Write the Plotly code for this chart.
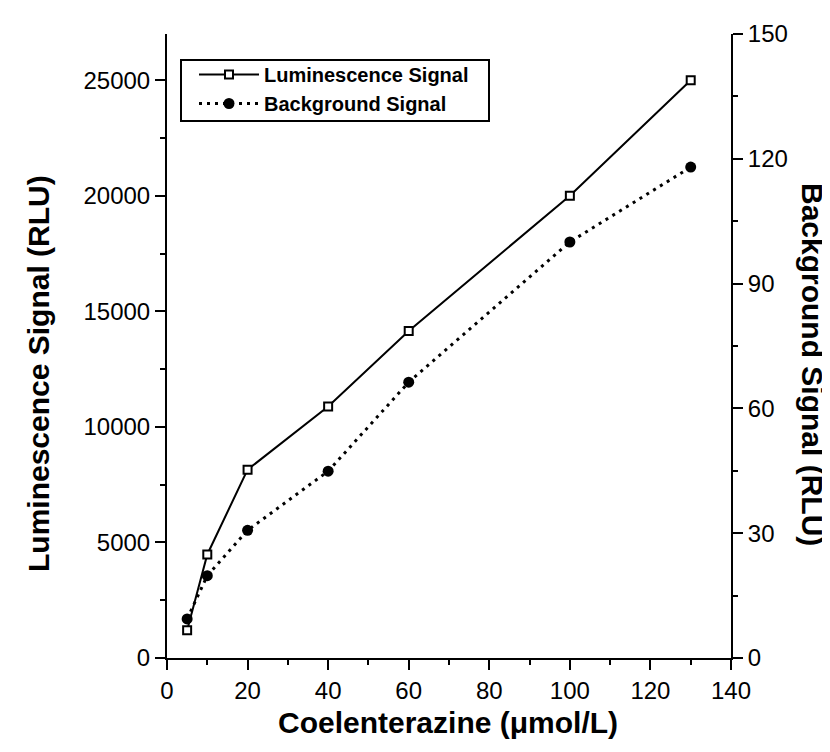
import plotly.graph_objects as go

# Data
conc = [5, 10, 20, 40, 60, 100, 130]
lum_signal = [1200, 4480, 8150, 10880, 14150, 20000, 25000]
bg_signal = [9.4, 19.8, 30.7, 44.9, 66.3, 100, 118]

x_ticks = [0, 20, 40, 60, 80, 100, 120, 140]
left_ticks = [0, 5000, 10000, 15000, 20000, 25000]
right_ticks = [0, 30, 60, 90, 120, 150]

W, H = 830, 752
L, R, T, B = 159, 107, 26, 102
PW, PH = W - L - R, H - T - B


def px(xp):
    return (xp - L) / PW


def py(yp):
    return 1 - (yp - T) / PH


FONT = "Arial, Liberation Sans, Helvetica, sans-serif"

fig = go.Figure()
fig.add_trace(go.Scatter(
    x=conc, y=lum_signal, name="Luminescence Signal", mode="lines+markers",
    line=dict(color="black", width=2),
    marker=dict(symbol="square", size=8, color="white", line=dict(color="black", width=2)),
    yaxis="y"))
fig.add_trace(go.Scatter(
    x=conc, y=bg_signal, name="Background Signal", mode="lines+markers",
    line=dict(color="black", width=3, dash="3px,5px"),
    marker=dict(symbol="circle", size=11, color="black"),
    yaxis="y2"))

axis_common = dict(
    showgrid=False, zeroline=False, showline=True, linecolor="black", linewidth=2,
    ticks="outside", ticklen=10, tickwidth=2, tickcolor="black",
    tickfont=dict(family=FONT, size=24, color="black"),
)

fig.update_layout(
    width=W, height=H,
    margin=dict(l=L, r=R, t=T, b=B, pad=0),
    paper_bgcolor="white", plot_bgcolor="white",
    showlegend=True,
    legend=dict(
        x=px(186), y=py(47), xanchor="left", yanchor="top",
        bgcolor="rgba(0,0,0,0)", borderwidth=0,
        font=dict(family=FONT, size=20, color="black", weight="bold"),
        itemwidth=60, tracegroupgap=0,
    ),
    xaxis=dict(
        range=[0, 140], tickvals=x_ticks, ticktext=[str(v) for v in x_ticks],
        minor=dict(dtick=10, ticklen=5, tickwidth=2, tickcolor="black", ticks="outside"),
        **axis_common),
    yaxis=dict(
        range=[0, 27000], tickvals=left_ticks, ticktext=[str(v) for v in left_ticks],
        minor=dict(dtick=2500, ticklen=5, tickwidth=2, tickcolor="black", ticks="outside"),
        **axis_common),
    yaxis2=dict(
        range=[0, 150], tickvals=right_ticks, ticktext=[str(v) for v in right_ticks],
        overlaying="y", side="right",
        minor=dict(dtick=15, ticklen=5, tickwidth=2, tickcolor="black", ticks="outside"),
        **axis_common),
)

# legend frame
fig.add_shape(type="rect", xref="paper", yref="paper",
              x0=px(173), x1=px(481), y0=py(113), y1=py(52),
              line=dict(color="black", width=2), fillcolor="white", layer="below")

title_font = dict(family=FONT, size=30, color="black", weight="bold")
fig.add_annotation(text="Coelenterazine (μmol/L)", xref="paper", yref="paper",
                   x=px(440), y=py(714), showarrow=False,
                   xanchor="center", yanchor="middle", font=title_font)
fig.add_annotation(text="Luminescence Signal (RLU)", xref="paper", yref="paper",
                   x=px(31), y=py(366), showarrow=False, textangle=-90,
                   xanchor="center", yanchor="middle", font=title_font)
fig.add_annotation(text="Background Signal (RLU)", xref="paper", yref="paper",
                   x=px(805), y=py(356), showarrow=False, textangle=90,
                   xanchor="center", yanchor="middle", font=title_font)

fig.write_html("out.html")
